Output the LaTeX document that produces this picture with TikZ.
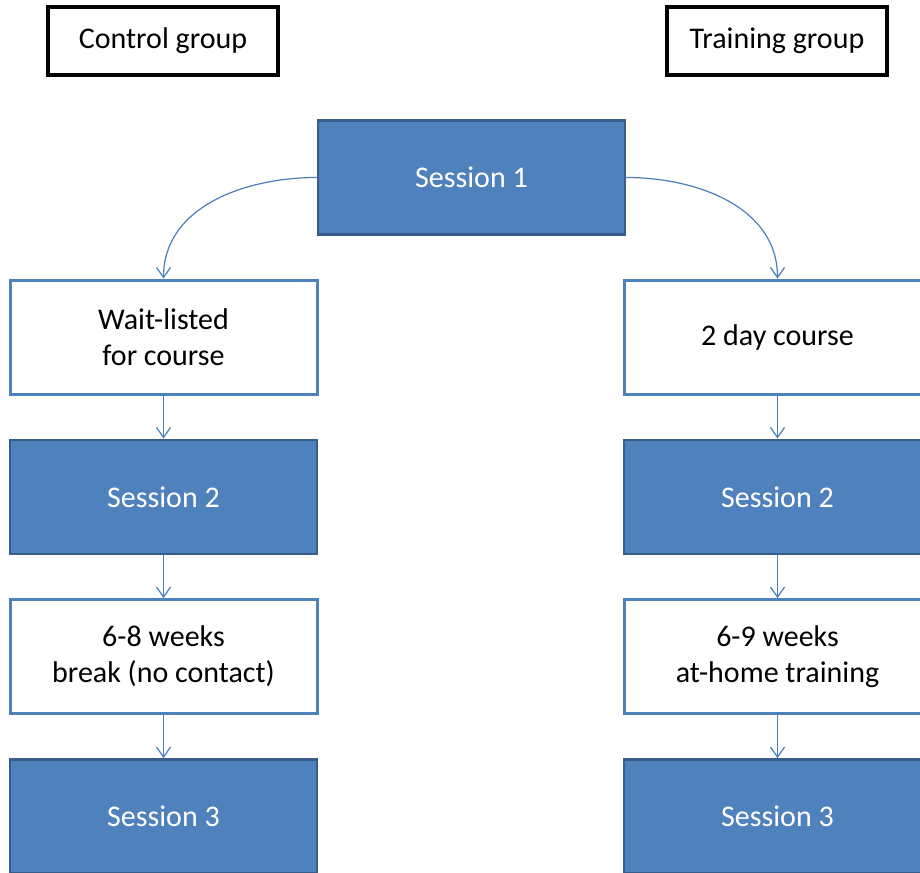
\documentclass[tikz,border=0pt]{standalone}
\usepackage{fontspec}
\setmainfont{Carlito}
\usepackage{tikz}
\usetikzlibrary{arrows.meta,positioning}
\definecolor{sesfill}{RGB}{79,129,189}
\definecolor{sesedge}{RGB}{56,93,138}
\definecolor{stepedge}{RGB}{79,129,189}
\definecolor{arrc}{RGB}{74,126,187}
\tikzset{
  base/.style={
    align=center, inner sep=2pt, font=\fontsize{15}{18}\selectfont,
    minimum width=153.5pt, minimum height=57pt
  },
  sess/.style={base, fill=sesfill, draw=sesedge, line width=1.3pt, text=white},
  stepbox/.style={base, fill=white, draw=stepedge, line width=1.5pt, text=black},
  grpbox/.style={
    draw=black, line width=1.6pt, fill=white, align=center,
    font=\fontsize{15}{18}\selectfont, minimum height=34pt
  },
  arr/.style={-{Straight Barb[length=5pt,width=7pt]}, draw=arrc, line width=0.6pt}
}
\begin{document}
\begin{tikzpicture}[x=0.5pt, y=-0.5pt, node distance=21.5pt]
  \useasboundingbox (0,0) rectangle (920,872);
  \clip (0,0) rectangle (920,872);

  % group labels
  \node[grpbox, minimum width=115pt] (cg) at (163,41) {Control group};
  \node[grpbox, minimum width=110pt] (tg) at (777,41) {Training group};

  \node[sess] (s1) at (471.5,177.5) {Session 1};

  % control arm
  \node[stepbox] (wait) at (163.5,337) {Wait-listed\\for course};
  \node[sess, below=of wait] (cs2) {Session 2};
  \node[stepbox, below=of cs2] (brk) {6-8 weeks\\break (no contact)};
  \node[sess, below=of brk] (cs3) {Session 3};

  % training arm
  \node[stepbox] (crs) at (777.5,337) {2 day course};
  \node[sess, below=of crs] (ts2) {Session 2};
  \node[stepbox, below=of ts2] (home) {6-9 weeks\\at-home training};
  \node[sess, below=of home] (ts3) {Session 3};

  \draw[arr] (s1.west) to[out=180, in=90] (wait.north);
  \draw[arr] (s1.east) to[out=0, in=90] (crs.north);
  \draw[arr] (wait) -- (cs2);
  \draw[arr] (cs2) -- (brk);
  \draw[arr] (brk) -- (cs3);
  \draw[arr] (crs) -- (ts2);
  \draw[arr] (ts2) -- (home);
  \draw[arr] (home) -- (ts3);
\end{tikzpicture}
\end{document}
